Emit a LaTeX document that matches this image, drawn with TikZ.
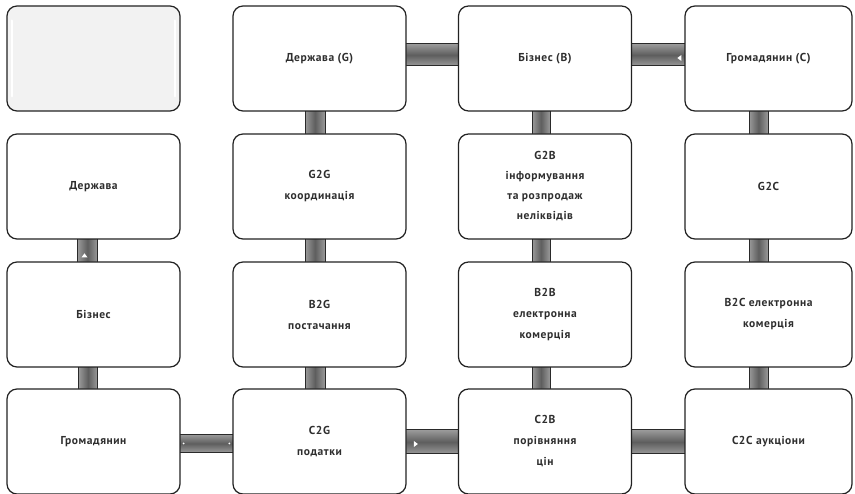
\documentclass[tikz,border=0pt]{standalone}
\usepackage{fontspec}
\setmainfont[LetterSpace=5]{PT Sans}
\usetikzlibrary{calc,backgrounds}
\definecolor{boxline}{HTML}{222222}
\definecolor{txt}{HTML}{2E2E2E}
\definecolor{barmid}{HTML}{5E5E5E}
\definecolor{baredge}{HTML}{9A9A9A}
\definecolor{barline}{HTML}{2A2A2A}
\definecolor{glossy}{HTML}{F2F2F2}
\tikzset{
  box/.style={draw=boxline, line width=1.2pt, rounded corners=10pt, fill=white,
    minimum width=173pt, minimum height=105pt, inner sep=0pt, align=center,
    text=txt, font=\bfseries\fontsize{11.5}{21}\selectfont},
  hbar/.style={draw=barline, line width=1pt, top color=baredge, bottom color=baredge, middle color=barmid},
  vbar/.style={draw=barline, line width=1pt, left color=baredge, right color=baredge, middle color=barmid},
  tick/.style={fill=white, draw=none}
}
\begin{document}
\begin{tikzpicture}[x=1pt,y=-1pt]
\useasboundingbox (0,0) rectangle (855,494);
% row 1
\node[box, fill=glossy] (e) at (93.5,58.5) {};
\node[box] (g) at (319.5,58.5) {Держава (G)};
\node[box] (b) at (545,58.5) {Бізнес (B)};
\node[box, minimum width=167pt] (c) at (768.5,58.5) {Громадянин (C)};
% row 2
\node[box] (r2a) at (93.5,186.5) {Держава};
\node[box] (g2g) at (319.5,186.5) {G2G\\координація};
\node[box, font=\bfseries\fontsize{11.5}{20}\selectfont] (g2b) at (545,186.5) {G2B\\інформування\\та розпродаж\\неліквідів};
\node[box, minimum width=167pt] (g2c) at (768.5,186.5) {G2C};
% row 3
\node[box] (r3a) at (93.5,314.5) {Бізнес};
\node[box] (b2g) at (319.5,314.5) {B2G\\постачання};
\node[box] (b2b) at (545,314.5) {B2B\\електронна\\комерція};
\node[box, minimum width=167pt] (b2c) at (768.5,314.5) {B2C електронна\\комерція};
% row 4
\node[box] (r4a) at (93.5,441.5) {Громадянин};
\node[box] (c2g) at (319.5,441.5) {C2G\\податки};
\node[box] (c2b) at (545,441.5) {C2B\\порівняння\\цін};
\node[box, minimum width=167pt] (c2c) at (768.5,441.5) {C2C аукціони};
% glossy highlights
\draw[white, line width=2pt, line cap=round] ($(e.west)+(6,-38)$) -- ($(e.west)+(6,38)$);
\draw[white, line width=2pt, line cap=round] ($(e.east)+(-6,-38)$) -- ($(e.east)+(-6,38)$);
\begin{scope}[on background layer]
% horizontal bars row 1
\path[hbar] ($(g.east)+(-3,-14.5)$) rectangle ($(b.west)+(3,7.5)$);
\path[hbar] ($(b.east)+(-3,-14.5)$) rectangle ($(c.west)+(3,7.5)$);
% horizontal bars row 4
\path[hbar] ($(r4a.east)+(-3,-7)$) rectangle ($(c2g.west)+(3,11)$);
\path[hbar] ($(c2g.east)+(-3,-11.5)$) rectangle ($(c2b.west)+(3,12.5)$);
\path[hbar] ($(c2b.east)+(-3,-11.5)$) rectangle ($(c2c.west)+(3,12.5)$);
% vertical bars column 1
\path[vbar] ($(r2a.south)+(-16,-3)$) rectangle ($(r3a.north)+(4,3)$);
\path[vbar] ($(r3a.south)+(-15,-3)$) rectangle ($(r4a.north)+(4,3)$);
% column 2
\path[vbar] ($(g.south)+(-14.5,-3)$) rectangle ($(g2g.north)+(5.5,3)$);
\path[vbar] ($(g2g.south)+(-14.5,-3)$) rectangle ($(b2g.north)+(5.5,3)$);
\path[vbar] ($(b2g.south)+(-14.5,-3)$) rectangle ($(c2g.north)+(5.5,3)$);
% column 3
\path[vbar] ($(b.south)+(-13,-3)$) rectangle ($(g2b.north)+(5,3)$);
\path[vbar] ($(g2b.south)+(-13,-3)$) rectangle ($(b2b.north)+(5,3)$);
\path[vbar] ($(b2b.south)+(-13,-3)$) rectangle ($(c2b.north)+(5,3)$);
% column 4
\path[vbar] ($(c.south)+(-19.5,-3)$) rectangle ($(g2c.north)+(-0.5,3)$);
\path[vbar] ($(g2c.south)+(-19.5,-3)$) rectangle ($(b2c.north)+(-0.5,3)$);
\path[vbar] ($(b2c.south)+(-19.5,-3)$) rectangle ($(c2c.north)+(-0.5,3)$);
\end{scope}
% small white marks on bars
\fill[tick] ($(c.west)+(-3,-3.5)$) -- ++(-4,3) -- ++(4,3) -- cycle;
\fill[tick] ($(c2b.west)+(-44,-0.5)$) -- ++(4,3) -- ++(-4,3) -- cycle;
\fill[tick] ($(r3a.north)+(-6,-4)$) -- ++(-3,-4) -- ++(-3,4) -- cycle;
\fill[tick] ($(r4a.east)+(3,2)$) circle (1pt);
\fill[tick] ($(c2g.west)+(-3,2)$) circle (1pt);
\end{tikzpicture}
\end{document}
